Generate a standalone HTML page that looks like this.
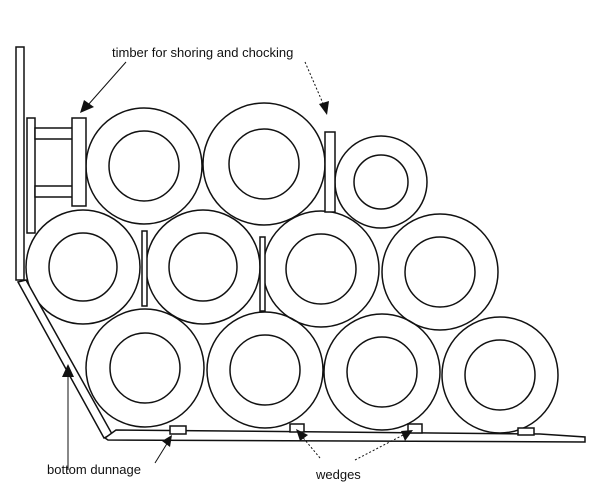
<!DOCTYPE html>
<html><head><style>
html,body{margin:0;padding:0;background:#fff;}
svg{display:block;}
text{font-family:"Liberation Sans",sans-serif;font-size:13px;fill:#111;}
</style></head><body>
<svg width="605" height="497" viewBox="0 0 605 497" xmlns="http://www.w3.org/2000/svg">
<g fill="none" stroke="#111" stroke-width="1.5">
<!-- top row -->
<circle cx="144" cy="166" r="58"/><circle cx="144" cy="166" r="35"/>
<circle cx="264" cy="164" r="61"/><circle cx="264" cy="164" r="35"/>
<circle cx="381" cy="182" r="46"/><circle cx="381" cy="182" r="27"/>
<!-- middle row -->
<circle cx="83" cy="267" r="57"/><circle cx="83" cy="267" r="34"/>
<circle cx="203" cy="267" r="57"/><circle cx="203" cy="267" r="34"/>
<circle cx="321" cy="269" r="58"/><circle cx="321" cy="269" r="35"/>
<circle cx="440" cy="272" r="58"/><circle cx="440" cy="272" r="35"/>
<!-- bottom row -->
<circle cx="145" cy="368" r="59"/><circle cx="145" cy="368" r="35"/>
<circle cx="265" cy="370" r="58"/><circle cx="265" cy="370" r="35"/>
<circle cx="382" cy="372" r="58"/><circle cx="382" cy="372" r="35"/>
<circle cx="500" cy="375" r="58"/><circle cx="500" cy="375" r="35"/>
</g>
<g fill="#fff" stroke="#111" stroke-width="1.5">
<!-- left wall -->
<rect x="16" y="47" width="8" height="233"/>
<polygon points="18,282 26,280 112,434 104,438"/>
<rect x="27" y="118" width="8" height="115"/>
<rect x="35" y="128" width="38" height="11"/>
<rect x="35" y="186" width="38" height="11"/>
<rect x="72" y="118" width="14" height="88"/>
<rect x="325" y="132" width="10" height="80"/>
<rect x="142" y="231" width="5" height="75"/>
<rect x="260" y="237" width="5" height="74"/>
<!-- dunnage -->
<polygon points="105,438 116,430 540,434 585,437 585,442 108,440"/>
<rect x="170" y="426" width="16" height="8"/>
<rect x="290" y="424" width="14" height="8"/>
<rect x="408" y="424" width="14" height="9"/>
<rect x="518" y="428" width="16" height="7"/>
</g>
<g stroke="#111" stroke-width="1">
<line x1="126" y1="62" x2="88" y2="105"/>
<line x1="305" y1="62" x2="325" y2="108" stroke-dasharray="2,2"/>
<line x1="68" y1="470" x2="68" y2="372"/>
<line x1="155" y1="463" x2="168" y2="442"/>
<line x1="320" y1="458" x2="300" y2="434" stroke-dasharray="2,2"/>
<line x1="355" y1="460" x2="405" y2="434" stroke-dasharray="2,2"/>
</g>
<g fill="#111">
<polygon points="80,113 84,100 94,107"/>
<polygon points="327,115 319,104 329,101"/>
<polygon points="68,364 62,377 74,377"/>
<polygon points="172,435 162,441 170,447"/>
<polygon points="296,429 300,441 308,435"/>
<polygon points="413,430 401,431 405,441"/>
</g>
<text x="112" y="57">timber for shoring and chocking</text>
<text x="47" y="474">bottom dunnage</text>
<text x="316" y="479">wedges</text>
</svg>
</body></html>
